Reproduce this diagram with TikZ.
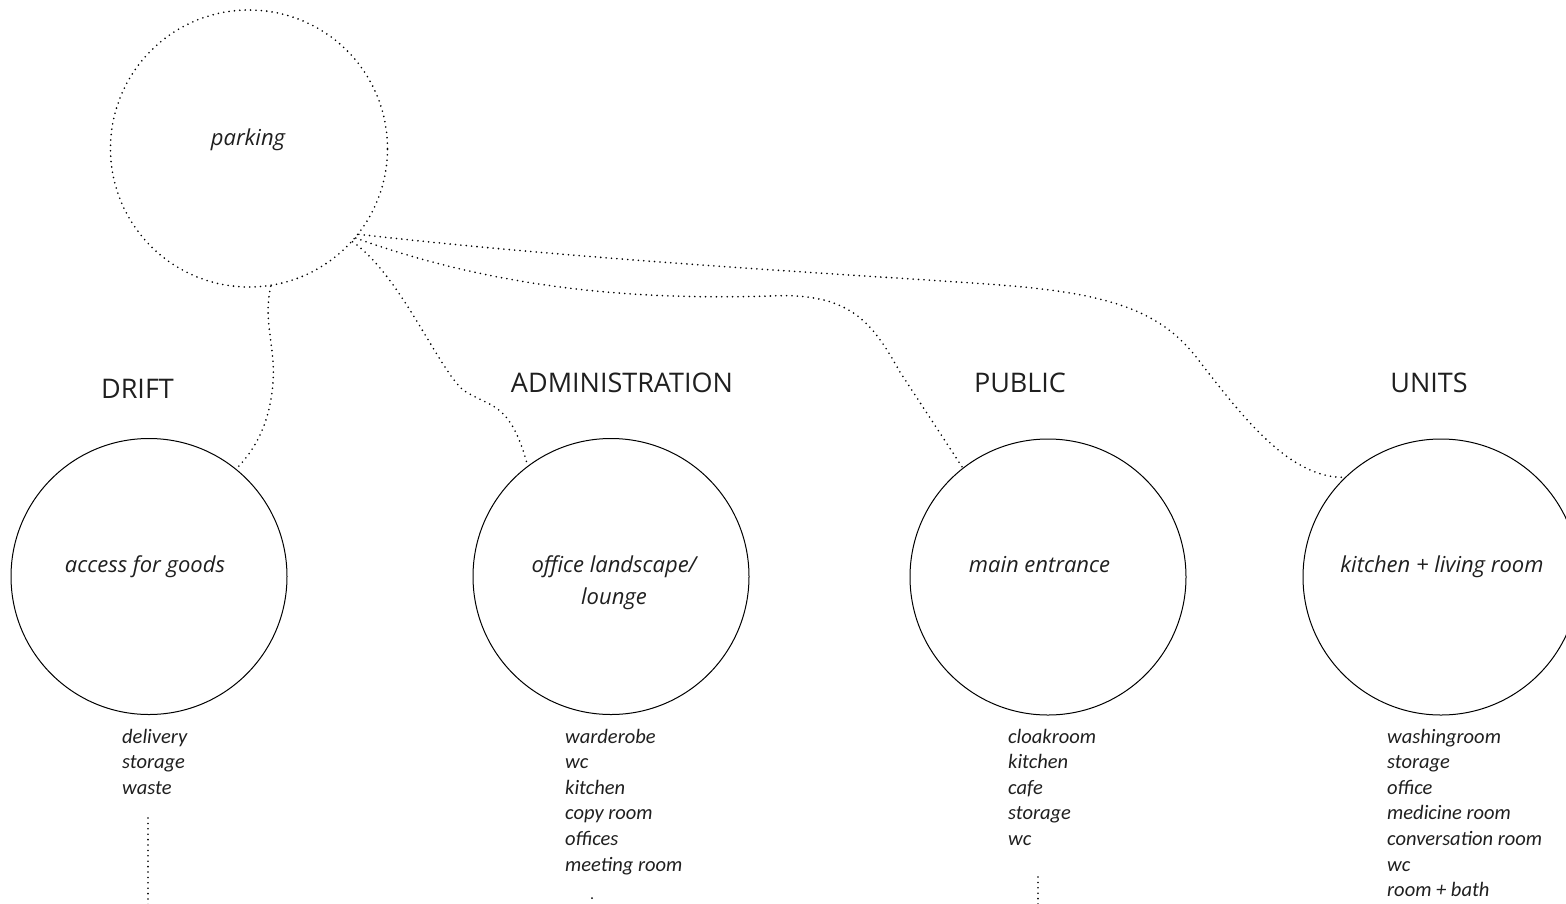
\documentclass[tikz,border=0pt]{standalone}
\usepackage{fontspec}
\setmainfont{Open Sans}
\newfontfamily\listfont{Carlito}
\begin{document}
\begin{tikzpicture}[x=1pt,y=-1pt,
  ink/.style={text=black!88},
  bubble/.style={circle,draw=black,line width=1pt,minimum size=276pt,inner sep=0pt},
  dotbubble/.style={circle,draw=black,line width=1.8pt,dash pattern=on 0pt off 5.4pt,line cap=round,minimum size=277pt,inner sep=0pt},
  dotlink/.style={draw=black,line width=1.8pt,dash pattern=on 0pt off 5.4pt,line cap=round},
  heading/.style={ink,font=\fontsize{27}{32}\selectfont,anchor=base,inner sep=0pt},
  clabel/.style={ink,font=\fontsize{22}{32}\selectfont\itshape,anchor=base,inner sep=0pt,align=center},
  roomlist/.style={ink,font=\listfont\fontsize{20.5}{25.6}\selectfont\itshape,anchor=base west,inner sep=0pt,align=left}]
\useasboundingbox (0,0) rectangle (1566,903);
% circles
\node[dotbubble] (parking) at (249,148.5) {};
\node[bubble] (access) at (149,576.5) {};
\node[bubble] (office) at (611,576.5) {};
\node[bubble] (entrance) at (1048,577) {};
\node[bubble] (units) at (1441,577) {};
% circle labels
\node[clabel] (tparking) at (248,145) {parking};
\node[clabel] (taccess) at (145,572) {access for goods};
\node[clabel] (toffice) at (614,604) {office landscape/\\lounge};
\node[clabel] (tentrance) at (1039.5,572) {main entrance};
\node[clabel] (tunits) at (1442,572) {kitchen + living room};
% headings
\node[heading] (hdrift) at (137.5,398) {DRIFT};
\node[heading] (hadmin) at (622,392) {ADMINISTRATION};
\node[heading] (hpublic) at (1020,392) {PUBLIC};
\node[heading] (hunits) at (1429,392) {UNITS};
% room lists (anchor at the baseline of the last line)
\node[roomlist] (ldrift) at (122,794.2) {delivery\\storage\\waste};
\node[roomlist] (ladmin) at (565,871) {warderobe\\wc\\kitchen\\copy room\\offices\\meeting room};
\node[roomlist] (lpublic) at (1008,845.4) {cloakroom\\kitchen\\cafe\\storage\\wc};
\node[roomlist] (lunits) at (1387,896.6) {washingroom\\storage\\office\\medicine room\\conversation room\\wc\\room + bath};
% connectors from parking
\path[dotlink] (parking.-81) .. controls (262,325) and (278,350) .. (272,392)
   .. controls (268,425) and (255,450) .. (access.51);
\path[dotlink] (parking.-42) .. controls (400,275) and (438,368) .. (463,390)
   .. controls (490,408) and (510,400) .. (office.127);
\path[dotlink] (parking.-40) .. controls (500,290) and (640,300) .. (770,296)
   .. controls (850,292) and (872,322) .. (900,372) -- (entrance.128);
\path[dotlink] (parking.-38) .. controls (600,262) and (880,276) .. (1000,285)
   .. controls (1120,294) and (1165,315) .. (1200,362)
   .. controls (1245,420) and (1290,478) .. (units.134);
% continuation marks below the lists
\coordinate (d1) at (148,818);
\coordinate (d2) at (148,905);
\path[dotlink] (d1) -- (d2);
\coordinate (a1) at (592,898);
\fill[black] (a1) circle (1pt);
\coordinate (p1) at (1038,877);
\coordinate (p2) at (1038,905);
\path[dotlink] (p1) -- (p2);
\end{tikzpicture}
\end{document}
